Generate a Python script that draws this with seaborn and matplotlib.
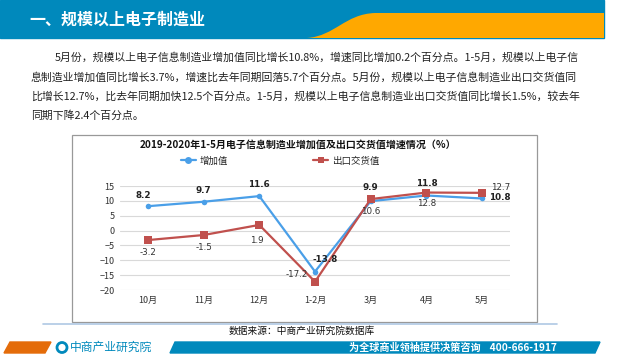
import pandas as pd
import numpy as np
import matplotlib.pyplot as plt
import seaborn as sns
from matplotlib.patches import Rectangle, Polygon, PathPatch, Circle
from matplotlib.path import Path

months = ["10月", "11月", "12月", "1-2月", "3月", "4月", "5月"]
added_value = [8.2, 9.7, 11.6, -13.8, 9.9, 11.8, 10.8]
export_value = [-3.2, -1.5, 1.9, -17.2, 10.6, 12.8, 12.7]
series_names = ["增加值", "出口交货值"]

paragraph = [
    "5月份，规模以上电子信息制造业增加值同比增长10.8%，增速同比增加0.2个百分点。1-5月，规模以上电子信",
    "息制造业增加值同比增长3.7%，增速比去年同期回落5.7个百分点。5月份，规模以上电子信息制造业出口交货值同",
    "比增长12.7%，比去年同期加快12.5个百分点。1-5月，规模以上电子信息制造业出口交货值同比增长1.5%，较去年",
    "同期下降2.4个百分点。",
]

df = pd.DataFrame({
    "月份": months * 2,
    "增速": added_value + export_value,
    "指标": [series_names[0]] * len(months) + [series_names[1]] * len(months),
})

sns.set_theme(style="white")
plt.rcParams['font.family'] = ['Noto Sans CJK SC', 'DejaVu Sans']

BLUE = "#0089BC"
fig = plt.figure(figsize=(6.4, 3.6), dpi=100)

# background layer in pixel coordinates
bg = fig.add_axes([0, 0, 1, 1])
bg.set_xlim(0, 640)
bg.set_ylim(360, 0)
bg.axis("off")

# header
bg.add_patch(Rectangle((0, 0), 604, 38, color=BLUE, zorder=1))
verts = [(307, 38), (335, 36), (345, 14), (375, 13), (604, 13), (604, 38), (307, 38)]
codes = [Path.MOVETO, Path.CURVE4, Path.CURVE4, Path.CURVE4, Path.LINETO, Path.LINETO, Path.CLOSEPOLY]
bg.add_patch(PathPatch(Path(verts, codes), facecolor="#FFA800", edgecolor="none", zorder=2))
bg.text(29, 20, "一、规模以上电子制造业", color="white", fontsize=11.5, fontweight="bold",
        va="center", ha="left", zorder=3)

# paragraph
starts = [55, 31, 31, 31]
ys = [57, 77, 96, 116]
for s, y, line in zip(starts, ys, paragraph):
    bg.text(s, y, line, fontsize=7.8, color="#222222", va="center", ha="left")

# chart frame
bg.add_patch(Rectangle((72, 135), 465, 187, facecolor="white", edgecolor="#999999", lw=0.9, zorder=1))
bg.plot([43, 557], [323.5, 323.5], color="#AFC8E4", lw=1.2)
bg.text(298, 145, "2019-2020年1-5月电子信息制造业增加值及出口交货值增速情况（%）",
        fontsize=7.2, fontweight="bold", ha="center", va="center", color="#111111")

bg.text(302, 331, "数据来源：中商产业研究院数据库", fontsize=7, ha="center", va="center", color="#111111")

# footer
bg.add_patch(Polygon([(4, 353), (10, 342), (51, 342), (45, 353)], color="#E46C0A"))
bg.add_patch(Polygon([(170, 353), (175, 342), (600, 342), (595, 353)], color=BLUE))
bg.add_patch(Circle((62, 347.5), 5, facecolor="none", edgecolor=BLUE, lw=2))
bg.text(70, 347.5, "中商产业研究院", fontsize=8.5, color=BLUE, va="center", ha="left")
bg.text(557, 347.5, "为全球商业领袖提供决策咨询    400-666-1917", fontsize=7.3, color="white",
        va="center", ha="right", fontweight="bold")

# chart axes
ax = fig.add_axes([120 / 640, 70 / 360, 390 / 640, 104 / 360])
ax.set_facecolor("none")
sns.lineplot(data=df, x="月份", y="增速", hue="指标", style="指标", sort=False,
             palette=["#4A9FE8", "#C0504D"], markers=["o", "s"], dashes=False,
             markersize=5, markeredgewidth=0, linewidth=1.6, ax=ax)
for line, ms in zip(ax.lines, [4, 6]):
    line.set_markersize(ms)

ax.set_ylim(-20, 15)
ax.set_xlim(-0.5, len(months) - 0.5)
ax.set_yticks(np.arange(-20, 16, 5))
ax.yaxis.grid(True, color="#D9D9D9", lw=0.8)
ax.set_axisbelow(True)
for sp in ax.spines.values():
    sp.set_visible(False)
ax.tick_params(axis="both", labelsize=6.5, colors="#333333", length=0, pad=4)
ax.set_xlabel("")
ax.set_ylabel("")

# data labels
blue_off = [(-3, 8), (0, 8), (0, 8), (7, 9), (0, 10), (0, 9), (13, 1)]
red_off = [(0, -9), (0, -9), (-2, -11), (-13, 5), (0, -9), (0, -8), (13, 4)]
for i, m in enumerate(months):
    ax.annotate(f"{added_value[i]}", (i, added_value[i]), textcoords="offset points",
                xytext=blue_off[i], ha="center", va="center", fontsize=6.3,
                fontweight="bold", color="#222222", family="DejaVu Sans")
    ax.annotate(f"{export_value[i]}", (i, export_value[i]), textcoords="offset points",
                xytext=red_off[i], ha="center", va="center", fontsize=6.3,
                color="#333333", family="DejaVu Sans")

ax.legend(loc="center", bbox_to_anchor=(280 / 640, 1 - 161 / 360), bbox_transform=fig.transFigure,
          ncol=2, frameon=False, fontsize=6.8, handlelength=1.6, columnspacing=9, handletextpad=0.4)

fig.savefig("out.png", dpi=100)
